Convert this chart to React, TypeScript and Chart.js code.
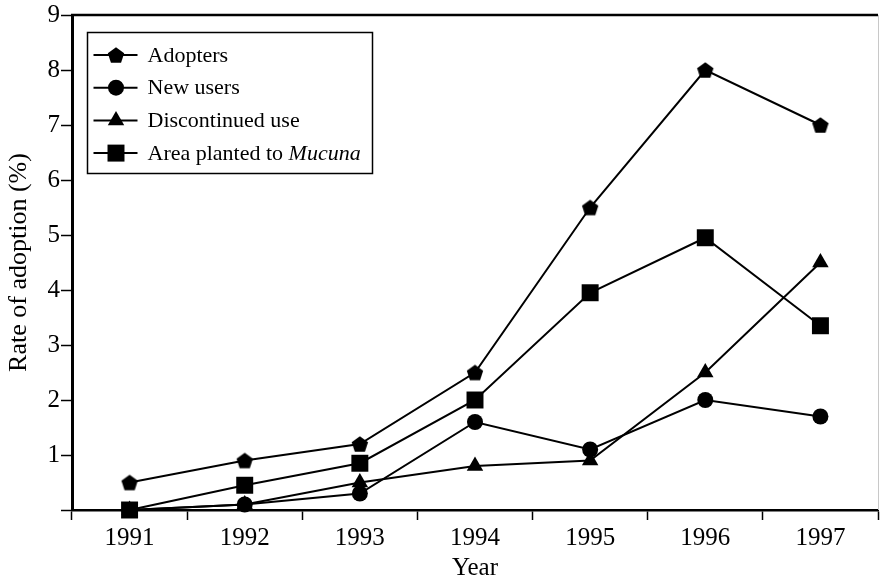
import React, { useEffect, useRef } from 'react';
import { Chart, registerables } from 'chart.js';

Chart.register(...registerables);

// ---- data ----
const years = ['1991', '1992', '1993', '1994', '1995', '1996', '1997'];
const adopters = [0.5, 0.9, 1.2, 2.5, 5.5, 8.0, 7.0];
const newUsers = [0.0, 0.1, 0.3, 1.6, 1.1, 2.0, 1.7];
const discontinuedUse = [0.0, 0.1, 0.5, 0.8, 0.9, 2.5, 4.5];
const areaPlanted = [0.0, 0.45, 0.85, 2.0, 3.95, 4.95, 3.35];
const yMin = 0;
const yMax = 9;
const yStep = 1;
const seriesLabels = ['Adopters', 'New users', 'Discontinued use', 'Area planted to '];
const italicSuffix = ['', '', '', 'Mucuna'];
const xTitle = 'Year';
const yTitle = 'Rate of adoption (%)';

const FONT = '"Liberation Serif", "Times New Roman", serif';

function makePentagon(R: number): HTMLCanvasElement {
  const size = Math.ceil(R * 2) + 2;
  const c = document.createElement('canvas');
  c.width = size;
  c.height = size;
  const ctx = c.getContext('2d') as CanvasRenderingContext2D;
  const cx = size / 2;
  const cy = size / 2 + 0.8;
  ctx.beginPath();
  for (let i = 0; i < 5; i++) {
    const a = -Math.PI / 2 + (i * 2 * Math.PI) / 5;
    const px = cx + R * Math.cos(a);
    const py = cy + R * Math.sin(a);
    if (i === 0) ctx.moveTo(px, py);
    else ctx.lineTo(px, py);
  }
  ctx.closePath();
  ctx.fillStyle = '#000';
  ctx.fill();
  return c;
}

function drawMarker(ctx: CanvasRenderingContext2D, style: any, r: number, x: number, y: number) {
  ctx.save();
  ctx.fillStyle = '#000';
  if (typeof style !== 'string') {
    ctx.drawImage(style, x - style.width / 2, y - style.height / 2);
  } else if (style === 'circle') {
    ctx.beginPath();
    ctx.arc(x, y, r, 0, Math.PI * 2);
    ctx.fill();
  } else if (style === 'triangle') {
    ctx.beginPath();
    let rad = 0;
    for (let i = 0; i < 3; i++) {
      const px = x + Math.sin(rad) * r;
      const py = y - Math.cos(rad) * r;
      if (i === 0) ctx.moveTo(px, py);
      else ctx.lineTo(px, py);
      rad += (2 * Math.PI) / 3;
    }
    ctx.closePath();
    ctx.fill();
  } else if (style === 'rect') {
    const s = Math.SQRT1_2 * r;
    ctx.fillRect(x - s, y - s, 2 * s, 2 * s);
  }
  ctx.restore();
}

export default function App() {
  const canvasRef = useRef<HTMLCanvasElement | null>(null);

  useEffect(() => {
    if (!canvasRef.current) return;
    const pentagon = makePentagon(8.6);
    const styles: any[] = [pentagon, 'circle', 'triangle', 'rect'];
    const radii = [8, 8, 9.5, 12];
    const seriesData = [adopters, newUsers, discontinuedUse, areaPlanted];

    const frameAndLegend = {
      id: 'frameAndLegend',
      afterDraw(chart: any) {
        const ctx: CanvasRenderingContext2D = chart.ctx;
        const ca = chart.chartArea;
        ctx.save();
        // top frame line
        ctx.strokeStyle = '#000';
        ctx.lineWidth = 2.5;
        ctx.beginPath();
        ctx.moveTo(ca.left - 1, ca.top);
        ctx.lineTo(ca.right, ca.top);
        ctx.stroke();
        // faint right frame line
        ctx.strokeStyle = '#c8c8c8';
        ctx.lineWidth = 1;
        ctx.beginPath();
        ctx.moveTo(ca.right + 0.5, ca.top);
        ctx.lineTo(ca.right + 0.5, ca.bottom);
        ctx.stroke();

        // legend box
        const bx = ca.left + 15.5;
        const by = ca.top + 17.5;
        const bw = 285;
        const bh = 141;
        ctx.strokeStyle = '#000';
        ctx.lineWidth = 1.5;
        ctx.strokeRect(bx, by, bw, bh);
        for (let i = 0; i < seriesLabels.length; i++) {
          const ry = by + 22.5 + i * 32.7;
          ctx.strokeStyle = '#000';
          ctx.lineWidth = 2;
          ctx.beginPath();
          ctx.moveTo(bx + 6, ry);
          ctx.lineTo(bx + 50, ry);
          ctx.stroke();
          drawMarker(ctx, styles[i], radii[i], bx + 28.5, ry);
          ctx.fillStyle = '#000';
          ctx.textBaseline = 'alphabetic';
          ctx.textAlign = 'left';
          ctx.font = '22px ' + FONT;
          const tx = bx + 60;
          ctx.fillText(seriesLabels[i], tx, ry + 6.5);
          if (italicSuffix[i]) {
            const w = ctx.measureText(seriesLabels[i]).width;
            ctx.font = 'italic 22px ' + FONT;
            ctx.fillText(italicSuffix[i], tx + w, ry + 6.5);
          }
        }
        ctx.restore();
      },
    };

    const chart = new Chart(canvasRef.current, {
      type: 'line',
      data: {
        labels: years,
        datasets: seriesData.map((d, i) => ({
          label: seriesLabels[i] + italicSuffix[i],
          data: d,
          borderColor: '#000',
          backgroundColor: '#000',
          borderWidth: 2,
          pointStyle: styles[i],
          pointRadius: radii[i],
          pointBackgroundColor: '#000',
          pointBorderColor: '#000',
          pointBorderWidth: 0,
          tension: 0,
          clip: false as any,
          fill: false,
        })),
      },
      options: {
        animation: false,
        responsive: false,
        devicePixelRatio: 1,
        layout: { autoPadding: false, padding: { top: 15, right: 2, left: 0, bottom: 0 } },
        plugins: {
          legend: { display: false },
          tooltip: { enabled: false },
        },
        events: [],
        scales: {
          x: {
            type: 'category',
            offset: true,
            grid: {
              offset: true,
              drawOnChartArea: false,
              drawTicks: true,
              tickLength: 10,
              tickColor: '#000',
              tickWidth: 1.5,
              color: '#000',
            },
            border: { display: true, color: '#000', width: 2.5 },
            ticks: {
              color: '#000',
              font: { family: FONT, size: 25 },
              padding: 3,
              maxRotation: 0,
            },
            title: {
              display: true,
              text: xTitle,
              color: '#000',
              font: { family: FONT, size: 25 },
              padding: { top: 0, bottom: 0 },
            },
            afterFit(scale: any) {
              scale.height = 73;
              scale.paddingLeft = 0;
              scale.paddingRight = 0;
            },
          },
          y: {
            type: 'linear',
            min: yMin,
            max: yMax,
            grid: {
              drawOnChartArea: false,
              drawTicks: true,
              tickLength: 11,
              tickColor: '#000',
              tickWidth: 1.5,
              color: '#000',
            },
            border: { display: true, color: '#000', width: 3 },
            ticks: {
              stepSize: yStep,
              color: '#000',
              font: { family: FONT, size: 25 },
              padding: 1,
              callback: (v: any) => (Number(v) === 0 ? '' : String(v)),
            },
            title: {
              display: true,
              text: yTitle,
              color: '#000',
              font: { family: FONT, size: 26 },
              padding: { top: 4, bottom: 0 },
            },
            afterFit(scale: any) {
              scale.width = 72;
              scale.paddingTop = 0;
              scale.paddingBottom = 0;
            },
          },
        },
      },
      plugins: [frameAndLegend],
    } as any);

    return () => {
      chart.destroy();
    };
  }, []);

  return (
    <div style={{ position: 'absolute', left: 0, top: 0, width: 880, height: 583, background: '#fff' }}>
      <canvas ref={canvasRef} width={880} height={583} style={{ display: 'block' }} />
    </div>
  );
}
